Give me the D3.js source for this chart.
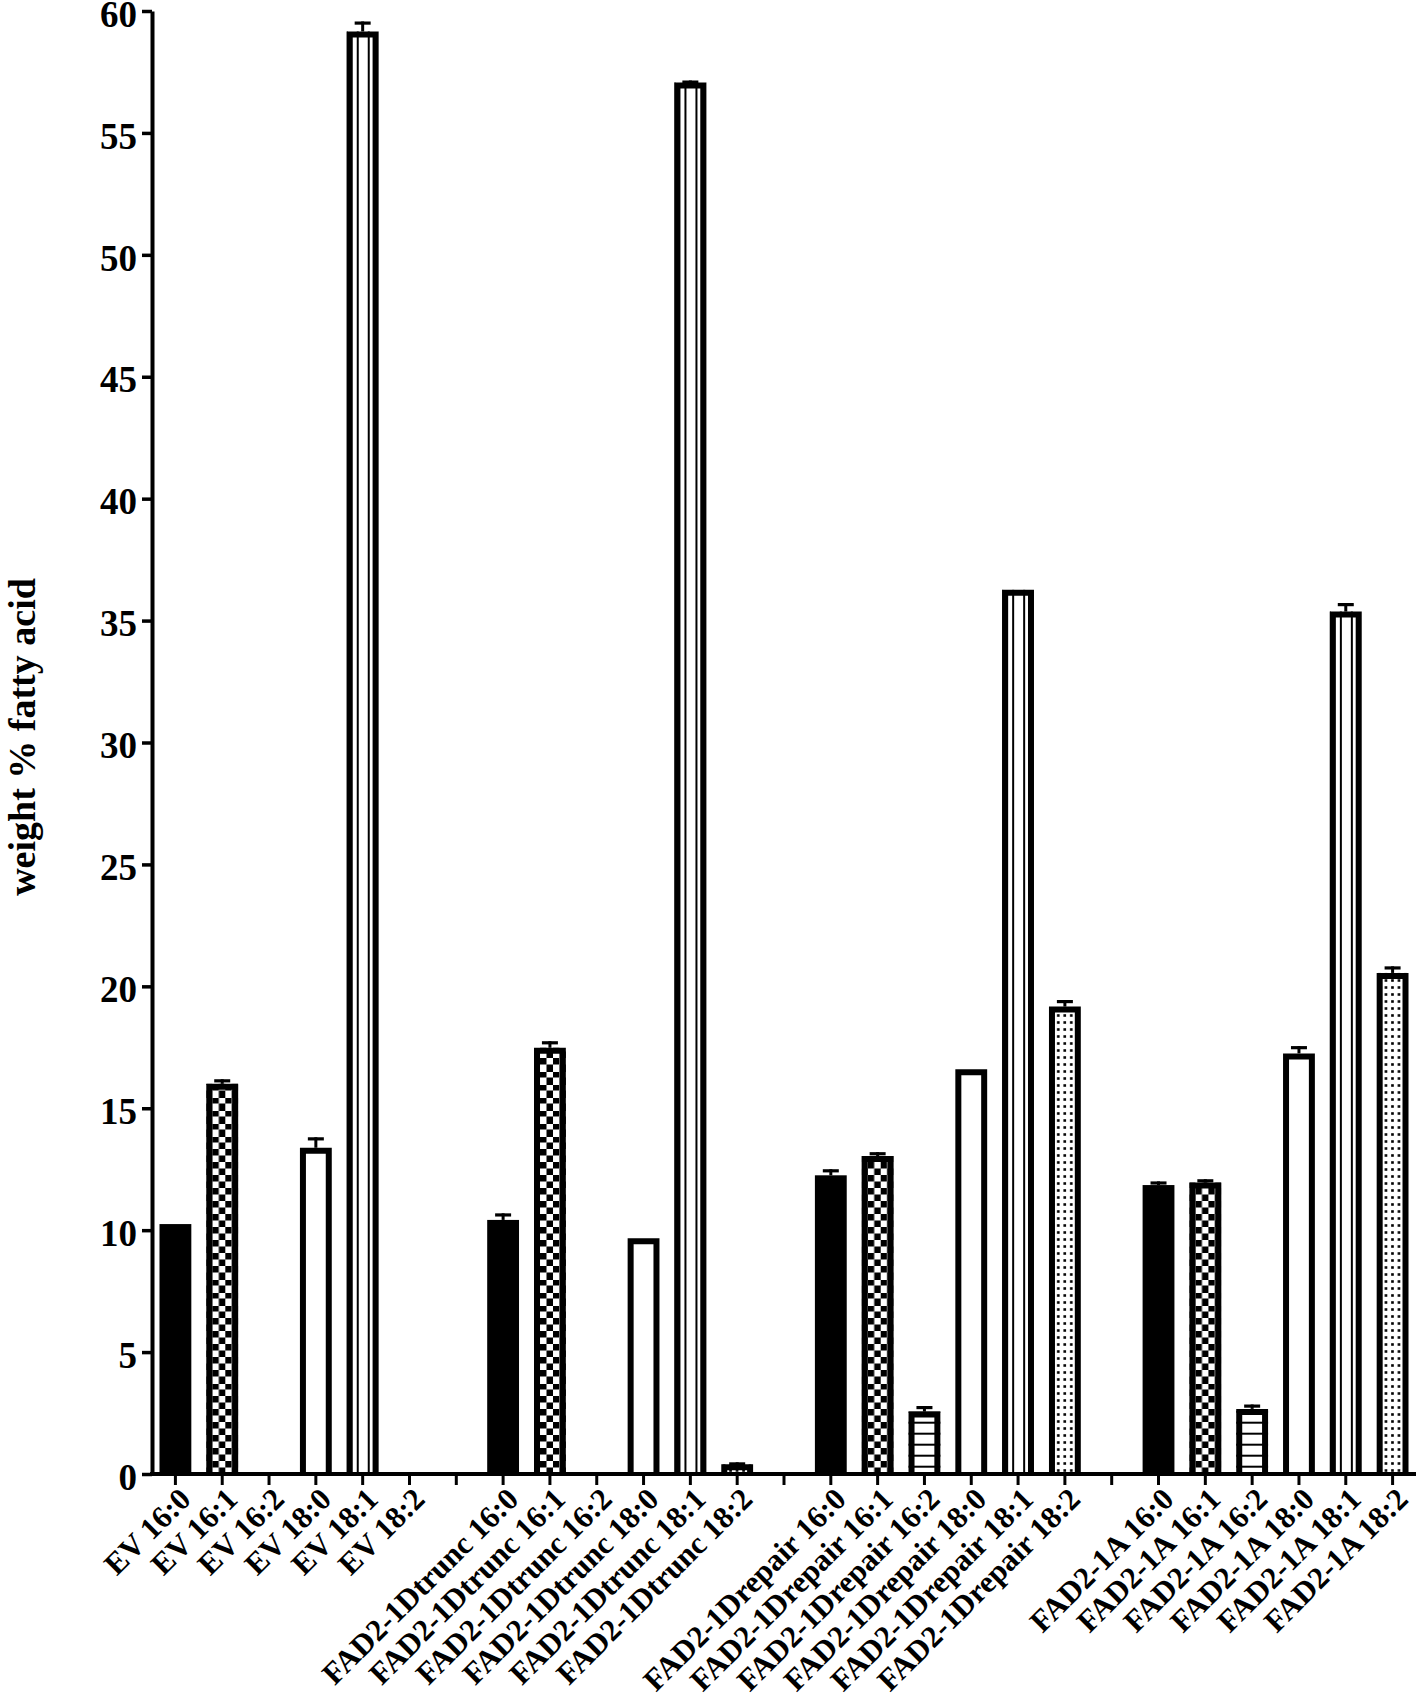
<!DOCTYPE html>
<html>
<head>
<meta charset="utf-8">
<script src="https://cdn.jsdelivr.net/npm/d3@7"></script>
<style>
  body { margin: 0; background: #fff; }
  svg { display: block; }
</style>
</head>
<body>
<div id="chart"></div>
<script>
const groups = ["EV", "FAD2-1Dtrunc", "FAD2-1Drepair", "FAD2-1A"];
const fattyAcids = ["16:0", "16:1", "16:2", "18:0", "18:1", "18:2"];

// mean weight % per group, in the fattyAcids order
const evMeans = [10.25, 16.0, 0, 13.38, 59.16, 0];
const truncMeans = [10.42, 17.48, 0, 9.67, 57.07, 0.40];
const repairMeans = [12.25, 13.04, 2.56, 16.6, 36.26, 19.17];
const fad1aMeans = [11.85, 11.95, 2.67, 17.25, 35.37, 20.55];

// error (SEM) above the bar
const evErr = [0, 0.19, 0, 0.43, 0.41, 0];
const truncErr = [0.27, 0.27, 0, 0, 0.08, 0.08];
const repairErr = [0.25, 0.16, 0.23, 0, 0, 0.27];
const fad1aErr = [0.15, 0.14, 0.18, 0.3, 0.35, 0.27];

const yTicks = [0, 5, 10, 15, 20, 25, 30, 35, 40, 45, 50, 55, 60];
const yTitle = "weight % fatty acid";

const w = 1417;
const h = 1699;
const plotLeft = 152, plotRight = 1416, plotTop = 11, plotBottom = 1474;
const font = "'Liberation Serif', 'Times New Roman', serif";

const means = [evMeans, truncMeans, repairMeans, fad1aMeans];
const errs = [evErr, truncErr, repairErr, fad1aErr];

// slots: 6 bars per group and an empty slot between groups
let slots = [];
let bars = [];
groups.forEach((g, gi) => {
  fattyAcids.forEach((fa, fi) => {
    const key = g + " " + fa;
    slots.push({ key: key, label: key });
    bars.push({ key: key, fa: fa, value: means[gi][fi], err: errs[gi][fi] });
  });
  if (gi < groups.length - 1) slots.push({ key: "gap" + gi, label: "" });
});

const svg = d3.select("#chart").
append("svg").
attr("width", w).
attr("height", h).
style("font-family", font);

const x = d3.scaleBand().
domain(slots.map(d => d.key)).
range([plotLeft, plotRight]).
paddingInner(0.32).
paddingOuter(0.16);

const y = d3.scaleLinear().
domain([0, 60]).
range([plotBottom, plotTop]);

const bw = x.bandwidth();
const border = 6;
const defs = svg.append("defs");

// one pattern per bar so the hatch lines up with the bar edges
bars.forEach((d, i) => {
  const bx = x(d.key);
  let p;
  if (d.fa === "16:1") {
    p = defs.append("pattern").attr("id", "p" + i).attr("patternUnits", "userSpaceOnUse").
    attr("x", bx + border).attr("y", plotBottom).attr("width", 13).attr("height", 13);
    p.append("rect").attr("width", 13).attr("height", 13).attr("fill", "#fff");
    p.append("rect").attr("width", 6.5).attr("height", 6.5).attr("fill", "#000");
    p.append("rect").attr("x", 6.5).attr("y", 6.5).attr("width", 6.5).attr("height", 6.5).attr("fill", "#000");
  } else if (d.fa === "16:2") {
    p = defs.append("pattern").attr("id", "p" + i).attr("patternUnits", "userSpaceOnUse").
    attr("x", bx).attr("y", plotBottom - 8.3).attr("width", 10).attr("height", 11);
    p.append("rect").attr("width", 10).attr("height", 11).attr("fill", "#fff");
    p.append("rect").attr("width", 10).attr("height", 2).attr("fill", "#000");
  } else if (d.fa === "18:1") {
    p = defs.append("pattern").attr("id", "p" + i).attr("patternUnits", "userSpaceOnUse").
    attr("x", bx + 10).attr("y", 0).attr("width", 11).attr("height", 10);
    p.append("rect").attr("width", 11).attr("height", 10).attr("fill", "#fff");
    p.append("rect").attr("width", 2).attr("height", 10).attr("fill", "#000");
  } else if (d.fa === "18:2") {
    p = defs.append("pattern").attr("id", "p" + i).attr("patternUnits", "userSpaceOnUse").
    attr("x", bx + border).attr("y", plotBottom).attr("width", 6.5).attr("height", 7);
    p.append("rect").attr("width", 6.5).attr("height", 7).attr("fill", "#fff");
    p.append("rect").attr("x", 2).attr("y", 2.2).attr("width", 2.6).attr("height", 2.6).attr("fill", "#000");
  }
});

const fillFor = (d, i) => {
  if (d.fa === "16:0") return "#000";
  if (d.fa === "18:0") return "#fff";
  return "url(#p" + i + ")";
};

const barG = svg.append("g").attr("class", "bars");

const cell = barG.selectAll("g").
data(bars).
enter().
append("g").
filter(d => d.value > 0);

// fill
cell.append("rect").
attr("x", d => x(d.key)).
attr("y", d => y(d.value)).
attr("width", bw).
attr("height", d => plotBottom - y(d.value)).
attr("fill", d => fillFor(d, bars.indexOf(d)));

// outline on three sides, the axis closes the bottom
cell.filter(d => d.fa !== "16:0").
append("path").
attr("d", d => {
  const x0 = x(d.key) + border / 2;
  const x1 = x(d.key) + bw - border / 2;
  const yt = y(d.value) + border / 2;
  return `M${x0},${plotBottom}V${yt}H${x1}V${plotBottom}`;
}).
attr("fill", "none").
attr("stroke", "#000").
attr("stroke-width", border).
attr("stroke-linejoin", "miter");

// error bars, upper half only
const eb = cell.filter(d => d.err > 0);
eb.append("line").
attr("x1", d => x(d.key) + bw / 2).
attr("x2", d => x(d.key) + bw / 2).
attr("y1", d => y(d.value)).
attr("y2", d => y(d.value + d.err)).
attr("stroke", "#000").
attr("stroke-width", 3);
eb.append("line").
attr("x1", d => x(d.key) + bw / 2 - 8).
attr("x2", d => x(d.key) + bw / 2 + 8).
attr("y1", d => y(d.value + d.err) + 1.6).
attr("y2", d => y(d.value + d.err) + 1.6).
attr("stroke", "#000").
attr("stroke-width", 3.2);

// y axis
const yAxis = svg.append("g").
attr("transform", `translate(${plotLeft},0)`).
call(d3.axisLeft(y).tickValues(yTicks).tickSize(10).tickSizeOuter(0).tickPadding(5));
yAxis.select(".domain").attr("stroke-width", 4);
yAxis.selectAll(".tick line").attr("stroke-width", 3.5);
yAxis.selectAll(".tick text").
attr("font-family", font).
attr("font-weight", "bold").
attr("font-size", 37).
attr("dy", "0.41em").
attr("fill", "#000");

// x axis, ticks on every slot including the gaps
const xAxis = svg.append("g").
attr("transform", `translate(0,${plotBottom})`).
call(d3.axisBottom(x).tickSize(11).tickSizeOuter(0).tickFormat(""));
xAxis.select(".domain").attr("stroke-width", 4).attr("d", `M${plotLeft - 2},0H${plotRight}`);
xAxis.selectAll(".tick line").attr("stroke-width", 3);

// rotated category labels
svg.append("g").
selectAll("text").
data(slots.filter(d => d.label !== "")).
enter().
append("text").
attr("transform", d => `translate(${x(d.key) + bw / 2 + 17},${plotBottom + 27}) rotate(-45)`).
attr("text-anchor", "end").
attr("font-weight", "bold").
attr("font-size", 31).
text(d => d.label);

// y title
svg.append("text").
attr("transform", `translate(35,737) rotate(-90)`).
attr("text-anchor", "middle").
attr("font-weight", "bold").
attr("font-size", 38).
text(yTitle);
</script>
</body>
</html>
